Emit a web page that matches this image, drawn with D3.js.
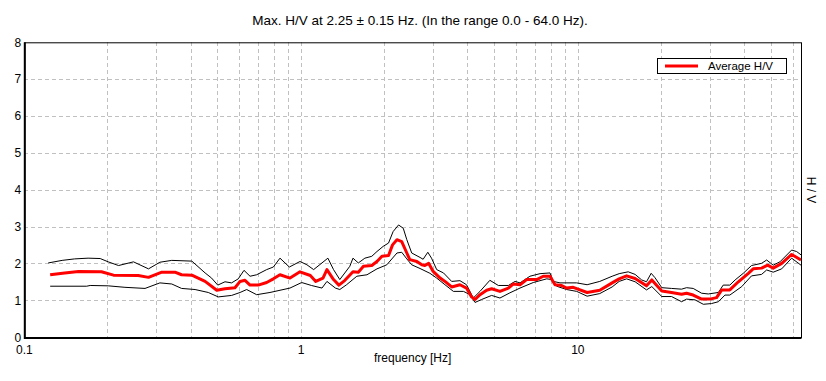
<!DOCTYPE html>
<html>
<head>
<meta charset="utf-8">
<script src="https://cdn.jsdelivr.net/npm/d3@7"></script>
<style>
  body { margin: 0; background: #fff; }
  svg { display: block; font-family: "Liberation Sans", Arial, sans-serif; }
  .grid line { stroke: #c0c0c0; stroke-dasharray: 4 3; shape-rendering: crispEdges; }
</style>
</head>
<body>
<div id="chart"></div>
<script>
// values
var upperFreq = [0.122,0.137,0.152,0.170,0.188,0.201,0.219,0.248,0.281,0.309,0.341,0.403,0.450,0.475,0.500,0.531,0.561,0.593,0.622,0.654,0.691,0.751,0.794,0.839,0.907,0.991,1.05,1.11,1.25,1.31,1.38,1.50,1.54,1.61,1.70,1.80,1.88,1.98,2.07,2.15,2.25,2.34,2.41,2.51,2.69,2.76,2.87,2.96,3.09,3.27,3.50,3.75,3.96,4.19,4.43,4.81,5.16,5.61,5.93,6.18,6.71,7.30,7.93,8.15,8.62,9.90,10.8,12.0,13.3,14.1,15.2,16.1,17.0,17.7,18.4,19.0,20.1,21.8,23.7,24.7,26.1,28.0,29.6,32.2,33.5,35.4,37.0,39.6,42.4,46.1,48.1,50.8,53.7,59.2,61.7,64];
var upperHV = [2.02,2.09,2.13,2.15,2.14,2.05,1.95,2.05,1.86,2.04,2.09,2.07,1.75,1.61,1.42,1.51,1.48,1.59,1.82,1.66,1.70,1.84,1.91,2.15,1.91,2.06,1.97,1.84,2.15,1.84,1.57,1.93,2.15,2.02,2.15,2.20,2.33,2.47,2.56,2.87,3.05,2.96,2.65,2.29,2.17,2.12,2.31,2.15,1.84,1.75,1.52,1.54,1.43,1.07,1.25,1.55,1.41,1.41,1.52,1.48,1.66,1.73,1.75,1.52,1.48,1.48,1.43,1.52,1.66,1.73,1.78,1.71,1.56,1.51,1.74,1.62,1.35,1.33,1.31,1.35,1.33,1.20,1.18,1.22,1.42,1.42,1.56,1.74,1.95,2.01,2.10,1.96,2.05,2.37,2.33,2.24];

var meanFreq = [0.124,0.140,0.157,0.190,0.210,0.258,0.281,0.314,0.350,0.370,0.403,0.450,0.496,0.531,0.577,0.602,0.627,0.654,0.700,0.751,0.794,0.839,0.912,0.991,1.08,1.13,1.20,1.24,1.31,1.37,1.44,1.54,1.61,1.68,1.80,1.88,1.96,2.07,2.14,2.22,2.31,2.41,2.47,2.62,2.73,2.80,2.89,3.00,3.18,3.31,3.50,3.75,3.96,4.13,4.25,4.43,4.68,4.88,5.23,5.61,5.84,6.18,6.53,7.10,7.50,7.93,8.27,8.74,9.11,9.62,10.8,12.0,13.3,14.1,15.0,16.1,17.7,18.5,20.1,21.8,23.7,24.7,26.1,28.0,30.0,31.7,33.1,35.4,38.0,41.3,43.0,46.1,48.5,50.8,54.5,59.2,64];
var meanHV = [1.70,1.75,1.79,1.78,1.69,1.68,1.63,1.77,1.77,1.70,1.69,1.52,1.28,1.32,1.35,1.52,1.55,1.42,1.42,1.49,1.59,1.70,1.61,1.78,1.68,1.52,1.61,1.84,1.57,1.42,1.55,1.78,1.77,1.93,1.95,2.06,2.20,2.22,2.51,2.65,2.60,2.29,2.11,2.06,1.97,1.95,2.01,1.79,1.61,1.52,1.37,1.43,1.34,1.10,1.03,1.16,1.28,1.32,1.25,1.34,1.45,1.43,1.57,1.57,1.66,1.66,1.43,1.41,1.34,1.36,1.22,1.28,1.48,1.59,1.67,1.60,1.40,1.56,1.26,1.22,1.17,1.20,1.15,1.04,1.04,1.08,1.29,1.29,1.51,1.74,1.86,1.88,1.96,1.88,2.01,2.25,2.10];

var lowerFreq = [0.124,0.168,0.173,0.201,0.231,0.273,0.309,0.341,0.370,0.414,0.462,0.502,0.561,0.602,0.636,0.691,0.772,0.912,1.005,1.09,1.19,1.24,1.33,1.38,1.46,1.59,1.73,1.88,2.04,2.22,2.31,2.41,2.51,2.69,2.92,3.09,3.31,3.55,3.86,4.08,4.25,4.49,4.88,5.23,5.68,6.18,6.90,7.72,8.04,8.38,9.11,9.90,10.8,12.0,13.3,14.1,15.0,16.1,17.7,18.5,20.1,21.8,23.7,24.7,26.5,28.4,30.4,32.2,34.0,35.4,39.1,42.4,46.1,48.1,50.8,54.5,59.2,64];
var lowerHV = [1.39,1.39,1.41,1.40,1.36,1.33,1.48,1.45,1.33,1.30,1.22,1.10,1.14,1.22,1.30,1.16,1.22,1.34,1.49,1.41,1.34,1.52,1.34,1.30,1.43,1.66,1.70,1.86,1.97,2.29,2.31,2.13,1.97,1.87,1.74,1.61,1.43,1.25,1.25,1.16,0.95,1.03,1.14,1.07,1.21,1.34,1.49,1.59,1.57,1.39,1.30,1.25,1.12,1.19,1.37,1.52,1.59,1.51,1.29,1.38,1.11,1.11,0.97,1.04,1.02,0.90,0.92,0.97,1.15,1.15,1.38,1.67,1.71,1.83,1.77,1.86,2.15,1.96];

var xTickLabels = [0.1, 1, 10];
var yTicks = [0, 1, 2, 3, 4, 5, 6, 7, 8];
var titleText = "Max. H/V at 2.25 \u00b1 0.15 Hz. (In the range 0.0 - 64.0 Hz).";
var legendLabel = "Average H/V";

var W = 826, H = 381;
var margin = {top: 42.3, right: 25, bottom: 43.5, left: 24.3};
var plotW = W - margin.left - margin.right,
    plotH = H - margin.top - margin.bottom;

var svg = d3.select("#chart").append("svg")
    .attr("width", W)
    .attr("height", H);

var x = d3.scaleLog()
    .domain([0.1, 64])
    .range([0, plotW]);

var y = d3.scaleLinear()
    .domain([0, 8])
    .range([plotH, 0]);

var g = svg.append("g")
    .attr("transform", "translate(" + margin.left + "," + margin.top + ")");

// grid
var grid = g.append("g").attr("class", "grid");
grid.selectAll(".vg")
    .data(x.ticks().filter(function(d){ return d > 0.1; }))
    .enter().append("line")
    .attr("x1", function(d){ return Math.round(x(d)) + 0.5; })
    .attr("x2", function(d){ return Math.round(x(d)) + 0.5; })
    .attr("y1", 0)
    .attr("y2", plotH);
grid.selectAll(".hg")
    .data(yTicks.filter(function(d){ return d > 0 && d < 8; }))
    .enter().append("line")
    .attr("x1", 0)
    .attr("x2", plotW)
    .attr("y1", function(d){ return Math.round(y(d)) + 0.5; })
    .attr("y2", function(d){ return Math.round(y(d)) + 0.5; });

// curves
svg.append("clipPath").attr("id", "clip")
    .append("rect").attr("width", plotW).attr("height", plotH);

var zip = function(fs, vs){
    return fs.map(function(f, i){ return {f: f, v: vs[i]}; });
};

var line = d3.line()
    .x(function(d){ return x(d.f); })
    .y(function(d){ return y(d.v); });

var curves = g.append("g").attr("clip-path", "url(#clip)");

curves.append("path")
    .datum(zip(upperFreq, upperHV))
    .attr("fill", "none")
    .attr("stroke", "#000")
    .attr("stroke-width", 1)
    .attr("d", line);

curves.append("path")
    .datum(zip(lowerFreq, lowerHV))
    .attr("fill", "none")
    .attr("stroke", "#000")
    .attr("stroke-width", 1)
    .attr("d", line);

curves.append("path")
    .datum(zip(meanFreq, meanHV))
    .attr("fill", "none")
    .attr("stroke", "#ff0000")
    .attr("stroke-width", 3)
    .attr("stroke-linejoin", "round")
    .attr("d", line);

// frame
g.append("rect")
    .attr("x", 0.5).attr("y", 0.5)
    .attr("width", plotW).attr("height", plotH)
    .attr("fill", "none")
    .attr("stroke", "#000")
    .attr("stroke-width", 1);
g.append("path")
    .attr("d", "M0.5,0V" + (plotH + 0.5) + "H" + plotW)
    .attr("fill", "none")
    .attr("stroke", "#000")
    .attr("stroke-width", 2);

// y axis labels
g.selectAll(".ylab")
    .data(yTicks)
    .enter().append("text")
    .attr("x", -3)
    .attr("y", function(d){ return y(d); })
    .attr("dy", "0.35em")
    .attr("text-anchor", "end")
    .attr("font-size", 12)
    .text(function(d){ return d; });

// x axis labels
g.selectAll(".xlab")
    .data(xTickLabels)
    .enter().append("text")
    .attr("x", function(d){ return x(d); })
    .attr("y", plotH + 17)
    .attr("text-anchor", "middle")
    .attr("font-size", 12)
    .text(function(d){ return d; });

svg.append("text")
    .attr("x", margin.left + plotW / 2)
    .attr("y", 362)
    .attr("text-anchor", "middle")
    .attr("font-size", 12)
    .text("frequency [Hz]");

svg.append("text")
    .attr("x", 420)
    .attr("y", 25)
    .attr("text-anchor", "middle")
    .attr("font-size", 13.5)
    .text(titleText);

svg.append("text")
    .attr("transform", "translate(807,190) rotate(90)")
    .attr("text-anchor", "middle")
    .attr("font-size", 12)
    .text("H / V");

// legend
var legend = svg.append("g").attr("transform", "translate(657,58)");
legend.append("rect")
    .attr("x", 0.5).attr("y", 0.5)
    .attr("width", 129).attr("height", 15)
    .attr("fill", "#fff")
    .attr("stroke", "#000");
legend.append("line")
    .attr("x1", 8).attr("x2", 41)
    .attr("y1", 8).attr("y2", 8)
    .attr("stroke", "#ff0000")
    .attr("stroke-width", 3);
legend.append("text")
    .attr("x", 51)
    .attr("y", 12)
    .attr("font-size", 11.5)
    .text(legendLabel);
</script>
</body>
</html>
